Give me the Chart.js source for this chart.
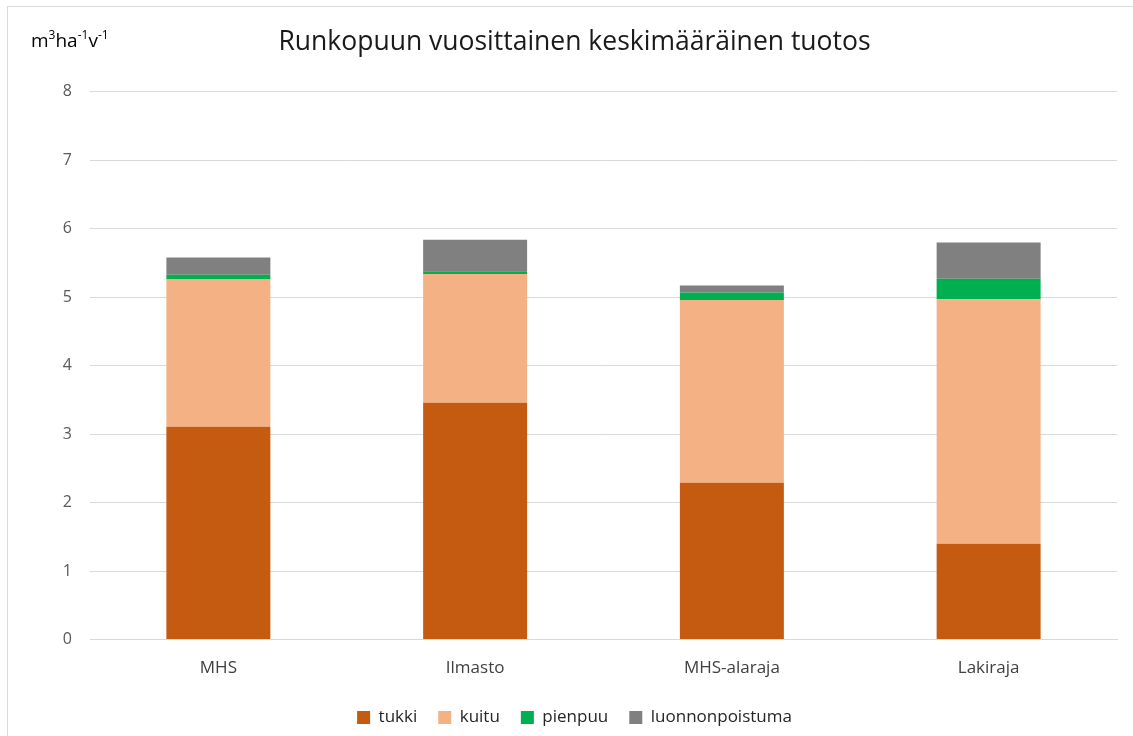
<!DOCTYPE html>
<html>
<head>
<meta charset="utf-8">
<script src="https://cdn.jsdelivr.net/npm/chart.js"></script>
<style>
  html, body { margin: 0; padding: 0; background: #fff; }
  #wrap { position: relative; width: 1133px; height: 736px; overflow: hidden; }
  #frame { position: absolute; left: 7px; top: 6px; width: 1140px; height: 760px; border: 1px solid #d9d9d9; box-sizing: border-box; }
  #unit { position: absolute; left: 31px; top: 27px; font-family: "Open Sans", sans-serif; font-size: 19px; color: #000; }
  #unit sup { font-size: 12px; vertical-align: 8px; line-height: 0; }
</style>
</head>
<body>
<div id="wrap">
  <div id="frame"></div>
  <canvas id="myChart" width="1133" height="736"></canvas>
  <div id="unit">m<sup>3</sup>ha<sup>-1</sup>v<sup>-1</sup></div>
</div>
<script>
// arvot luettu kuvasta
const categories = ['MHS', 'Ilmasto', 'MHS-alaraja', 'Lakiraja'];
const tukki = [3.11, 3.46, 2.29, 1.40];
const kuitu = [2.15, 1.88, 2.67, 3.57];
const pienpuu = [0.07, 0.04, 0.11, 0.30];
const luonnonpoistuma = [0.25, 0.46, 0.10, 0.53];
const yTicks = [0, 1, 2, 3, 4, 5, 6, 7, 8];

const FONT = '"Open Sans", sans-serif';

const mk = (label, data, color) => ({
    label: label,
    data: data,
    backgroundColor: color,
    borderWidth: 0,
    barPercentage: 0.405,
    categoryPercentage: 1.0
});

const ctx = document.getElementById('myChart').getContext('2d');
new Chart(ctx, {
    type: 'bar',
    data: {
        labels: categories,
        datasets: [
            mk('tukki', tukki, '#C55A11'),
            mk('kuitu', kuitu, '#F4B183'),
            mk('pienpuu', pienpuu, '#00B050'),
            mk('luonnonpoistuma', luonnonpoistuma, '#808080')
        ]
    },
    options: {
        responsive: false,
        animation: false,
        // vasen padding keskittää otsikon ja selitteen kuten alkuperäisessä
        layout: { padding: { left: 32, right: 16, top: 0, bottom: 0 } },
        scales: {
            x: {
                stacked: true,
                grid: { display: false },
                border: { display: true, color: '#D9D9D9', width: 1 },
                ticks: { color: '#404040', font: { family: FONT, size: 17 }, padding: 10 }
            },
            y: {
                stacked: true,
                min: 0,
                max: 8,
                afterBuildTicks: (s) => { s.ticks = yTicks.map(v => ({ value: v })); },
                afterFit: (s) => { s.width = 58; },
                grid: { color: '#D9D9D9', drawTicks: false },
                border: { display: false },
                ticks: { color: '#595959', font: { family: FONT, size: 16 }, padding: 18 }
            }
        },
        plugins: {
            title: {
                display: true,
                text: 'Runkopuun vuosittainen keskimääräinen tuotos',
                color: '#1a1a1a',
                font: { family: FONT, size: 26.5, weight: 'normal' },
                padding: { top: 27, bottom: 33 }
            },
            legend: {
                position: 'bottom',
                labels: {
                    color: '#262626',
                    font: { family: FONT, size: 17 },
                    boxWidth: 13,
                    boxHeight: 13,
                    padding: 21
                }
            },
            tooltip: { enabled: false }
        }
    }
});
</script>
</body>
</html>
